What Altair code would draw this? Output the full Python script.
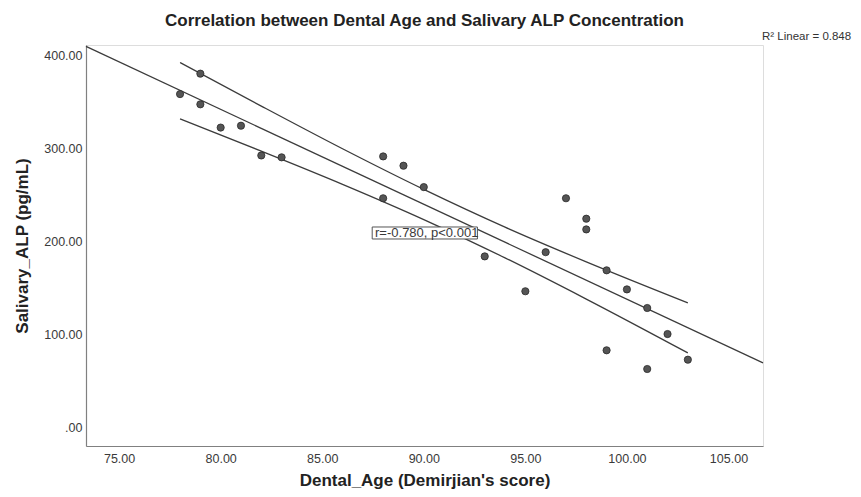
import altair as alt
import pandas as pd

# Scatter data
dental_age = [78, 79, 79, 80, 81, 82, 83, 88, 88, 89, 90, 93, 95, 96, 97, 98, 98,
              99, 99, 100, 101, 101, 102, 103]
salivary_alp = [358, 380, 347, 322, 324, 292, 290, 291, 246, 281, 258, 183.5, 146,
                188, 246, 224, 212.5, 168.5, 82.5, 148, 128, 62.4, 100, 72.4]

# 95% confidence band for the mean
ci_x = [78, 82, 86, 90, 94, 98, 103]
ci_upper = [392.0, 345.1, 299.2, 255.5, 214.9, 177.6, 133.5]
ci_lower = [331.4, 296.7, 261.0, 223.1, 181.9, 137.6, 79.7]

# Axis ranges and ticks
x_domain = [73.37, 106.7]
y_domain = [-20.4, 410.8]
x_ticks = [75, 80, 85, 90, 95, 100, 105]
y_ticks = [0, 100, 200, 300, 400]

# Annotations
corr_label = ["r=-0.780, p<0.001"]
corr_box_x = [87.46]
corr_box_x2 = [92.64]
corr_box_y = [202.2]
corr_box_y2 = [215.1]
corr_text_x = [87.6]
corr_text_y = [208.6]
r2_label = ["R\u00b2 Linear = 0.848"]
r2_x = [106.65]
r2_y = [419.4]

FONT = "Liberation Sans"

pts = pd.DataFrame({"x": dental_age, "y": salivary_alp})
ci = pd.DataFrame({"x": ci_x * 2,
                   "y": ci_upper + ci_lower,
                   "band": ["upper"] * len(ci_x) + ["lower"] * len(ci_x)})
box = pd.DataFrame({"x": corr_box_x, "x2": corr_box_x2, "y": corr_box_y, "y2": corr_box_y2})
ctext = pd.DataFrame({"x": corr_text_x, "y": corr_text_y, "t": corr_label})
r2 = pd.DataFrame({"x": r2_x, "y": r2_y, "t": r2_label})

xscale = alt.Scale(domain=x_domain, nice=False, zero=False)
yscale = alt.Scale(domain=y_domain, nice=False, zero=False)

xaxis = alt.Axis(values=x_ticks, format=".2f", ticks=False, grid=False,
                 title="Dental_Age (Demirjian's score)",
                 labelFont=FONT, labelFontSize=12.5, labelColor="#3a3a3a", labelPadding=6,
                 titleFont=FONT, titleFontSize=17, titleFontWeight="bold", titleColor="#222222",
                 titlePadding=8, domainColor="#808080", domainWidth=1.2)
yaxis = alt.Axis(values=y_ticks, ticks=False, grid=False,
                 labelExpr="datum.value == 0 ? '.00' : format(datum.value, '.2f')",
                 title="Salivary_ALP (pg/mL)",
                 labelFont=FONT, labelFontSize=12.5, labelColor="#3a3a3a", labelPadding=4,
                 titleFont=FONT, titleFontSize=17, titleFontWeight="bold", titleColor="#222222",
                 titlePadding=12, domainColor="#808080", domainWidth=1.2)

fit = alt.Chart(pts).transform_regression(
    "x", "y", extent=x_domain
).mark_line(color="#3c3c3c", strokeWidth=1.3).encode(
    x=alt.X("x:Q", scale=xscale, axis=xaxis),
    y=alt.Y("y:Q", scale=yscale, axis=yaxis),
)

band = alt.Chart(ci).mark_line(color="#3c3c3c", strokeWidth=1.3, interpolate="monotone").encode(
    x=alt.X("x:Q", scale=xscale),
    y=alt.Y("y:Q", scale=yscale),
    detail="band:N",
)

points = alt.Chart(pts).mark_point(
    filled=True, size=52, fill="#555555", stroke="#2a2a2a", strokeWidth=0.8, opacity=1
).encode(
    x=alt.X("x:Q", scale=xscale),
    y=alt.Y("y:Q", scale=yscale),
)

boxes = alt.Chart(box).mark_rect(fill="white", stroke="#555555", strokeWidth=1).encode(
    x="x:Q", x2="x2:Q", y="y:Q", y2="y2:Q"
)

ctexts = alt.Chart(ctext).mark_text(
    align="left", baseline="middle", font=FONT, fontSize=13, color="#3a3a3a"
).encode(x="x:Q", y="y:Q", text="t:N")

r2text = alt.Chart(r2).mark_text(
    align="left", baseline="middle", font=FONT, fontSize=11.5, color="#333333"
).encode(x="x:Q", y="y:Q", text="t:N")

chart = alt.layer(fit, band, points, boxes, ctexts, r2text).properties(
    width=677,
    height=401,
    autosize=alt.AutoSizeParams(type="none"),
    padding={"left": 78, "top": 37, "right": 90, "bottom": 43},
    title=alt.Title("Correlation between Dental Age and Salivary ALP Concentration",
                    font=FONT, fontSize=17, fontWeight="bold", color="#222222",
                    anchor="middle", offset=1),
).configure_view(stroke=None).configure(background="white")

chart.save("out.html", embed_options={"renderer": "svg", "actions": False})
